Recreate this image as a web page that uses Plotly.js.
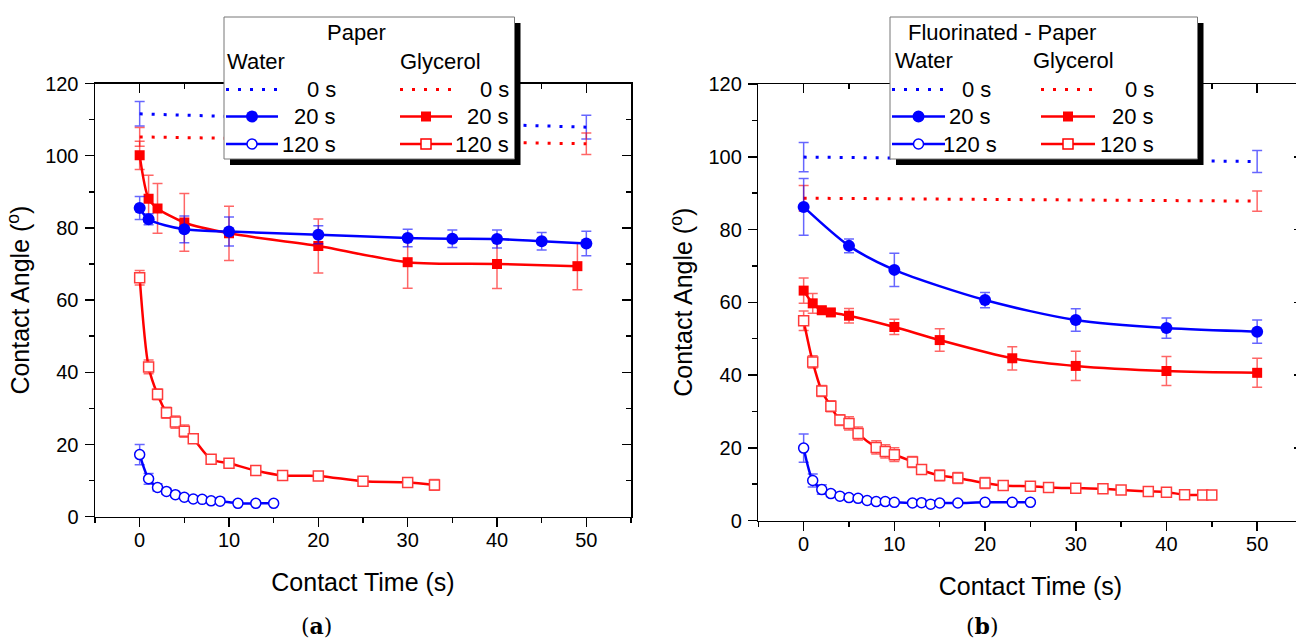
<!DOCTYPE html>
<html>
<head>
<meta charset="utf-8">
<script src="https://cdn.plot.ly/plotly-3.0.1.min.js"></script>
<style>
html,body{margin:0;padding:0;overflow:hidden;background:#fff;}
#chart{width:1304px;height:642px;}
</style>
</head>
<body>
<div id="chart"></div>
<script>
// ---------------- DATA ----------------
// Panel (a): Paper
const tA_w0 = [0, 50];
const yA_w0 = [111.6, 107.9];
const eA_w0 = [3.4, 3.3];
const tA_g0 = [0, 50];
const yA_g0 = [105.2, 103.3];
const eA_g0 = [2.6, 3.0];
const tA_w20 = [0, 1, 5, 10, 20, 30, 35, 40, 45, 50];
const yA_w20 = [85.5, 82.4, 79.6, 79.0, 78.1, 77.2, 77.0, 76.9, 76.3, 75.7];
const eA_w20 = [3.2, 1.5, 3.7, 4.0, 2.5, 2.4, 2.4, 2.5, 2.4, 3.4];
const tA_g20 = [0, 1, 2, 5, 10, 20, 30, 40, 49];
const yA_g20 = [100.1, 88.1, 85.4, 81.5, 78.5, 75.0, 70.5, 70.0, 69.4];
const eA_g20 = [3.9, 6.5, 6.9, 8.0, 7.5, 7.5, 7.2, 6.8, 6.5];
const tA_w120 = [0, 1, 2, 3, 4, 5, 6, 7, 8, 9, 11, 13, 15];
const yA_w120 = [17.2, 10.5, 8.1, 7.0, 6.1, 5.4, 4.9, 4.8, 4.4, 4.3, 3.7, 3.7, 3.7];
const eA_w120 = [2.8, 1.5, 1.0, 0.8, 0.6, 0.5, 0.5, 0.5, 0.5, 0.5, 0.5, 0.5, 0.5];
const tA_g120 = [0, 1, 2, 3, 4, 5, 6, 8, 10, 13, 16, 20, 25, 30, 33];
const yA_g120 = [66.2, 41.5, 33.9, 28.8, 26.2, 23.7, 21.6, 15.9, 14.8, 12.8, 11.4, 11.3, 9.8, 9.5, 8.8];
const eA_g120 = [2.0, 1.9, 1.5, 1.5, 1.7, 1.7, 1.2, 1.0, 1.0, 0.8, 0.8, 0.8, 0.8, 0.8, 1.5];

// Panel (b): Fluorinated - Paper
const tB_w0 = [0, 50];
const yB_w0 = [99.9, 98.7];
const eB_w0 = [4.0, 3.0];
const tB_g0 = [0, 50];
const yB_g0 = [88.6, 87.8];
const eB_g0 = [3.5, 2.8];
const tB_w20 = [0, 5, 10, 20, 30, 40, 50];
const yB_w20 = [86.2, 75.5, 68.9, 60.6, 55.1, 52.9, 51.9];
const eB_w20 = [7.8, 1.9, 4.6, 2.1, 3.1, 2.8, 3.2];
const tB_g20 = [0, 1, 2, 3, 5, 10, 15, 23, 30, 40, 50];
const yB_g20 = [63.2, 59.7, 57.8, 57.2, 56.3, 53.2, 49.6, 44.6, 42.5, 41.1, 40.6];
const eB_g20 = [3.5, 2.7, 1.0, 0.8, 2.0, 2.1, 3.1, 3.2, 4.0, 4.0, 4.0];
const tB_w120 = [0, 1, 2, 3, 4, 5, 6, 7, 8, 9, 10, 12, 13, 14, 15, 17, 20, 23, 25];
const yB_w120 = [19.9, 11.0, 8.5, 7.4, 6.7, 6.3, 6.1, 5.5, 5.2, 5.2, 5.0, 4.8, 4.9, 4.5, 4.8, 4.8, 5.0, 5.0, 5.0];
const eB_w120 = [3.9, 1.8, 1.3, 0.8, 0.6, 0.5, 0.5, 0.5, 0.5, 0.5, 0.5, 0.5, 0.5, 0.5, 0.5, 0.5, 0.5, 0.5, 0.5];
const tB_g120 = [0, 1, 2, 3, 4, 5, 6, 8, 9, 10, 12, 13, 15, 17, 20, 22, 25, 27, 30, 33, 35, 38, 40, 42, 44, 45];
const yB_g120 = [54.9, 43.6, 35.6, 31.4, 27.6, 26.7, 23.9, 20.1, 19.0, 18.1, 16.1, 14.0, 12.4, 11.7, 10.3, 9.6, 9.4, 9.1, 8.9, 8.7, 8.4, 8.0, 7.8, 7.1, 7.0, 7.0];
const eB_g120 = [2.7, 1.7, 1.5, 1.5, 1.5, 1.8, 1.8, 1.8, 1.8, 1.9, 1.5, 1.0, 1.5, 1.5, 1.5, 1.0, 1.0, 1.0, 1.0, 1.0, 1.0, 1.0, 1.0, 1.0, 1.0, 1.0];

// labels
const panelTitles = ['Paper', 'Fluorinated - Paper'];
const liquidLabels = ['Water', 'Glycerol'];
const timeLabels = ['0 s', '20 s', '120 s'];
const xTitle = 'Contact Time (s)';
const yTitle = 'Contact Angle (<sup>o</sup>)';
const captions = ['(<b>a</b>)', '(<b>b</b>)'];

// ---------------- STYLE ----------------
const W = 1304, H = 642;
const F = 'Liberation Sans, Arial, sans-serif';
const BLUE = '#0000ff', RED = '#ff0000';
const BLUE_E = 'rgba(0,0,255,0.6)', RED_E = 'rgba(255,0,0,0.6)';
const DOT = '3px,9px';
function px(x) { return x / W; }
function py(y) { return 1 - y / H; }

function zero(t, y, e, xa, ya, color, ecolor) {
  return {x: t, y: y, xaxis: xa, yaxis: ya, type: 'scatter', mode: 'lines',
    line: {color: color, width: 3, dash: DOT},
    error_y: {type: 'data', array: e, color: ecolor, thickness: 1.5, width: 5},
    showlegend: false, hoverinfo: 'skip'};
}
function curve(t, y, e, xa, ya, color, ecolor, symbol, size, open) {
  return {x: t, y: y, xaxis: xa, yaxis: ya, type: 'scatter', mode: 'lines+markers',
    line: {color: color, width: 2.5, shape: 'spline', smoothing: 0.8},
    marker: open ? {symbol: symbol, size: size, color: 'white', line: {color: color === RED ? '#ff3b3b' : color, width: 1.5}}
                 : {symbol: symbol, size: size, color: color, line: {width: 0}},
    error_y: {type: 'data', array: e, color: ecolor, thickness: 1.5, width: 5},
    showlegend: false, hoverinfo: 'skip'};
}

const data = [
  zero(tA_w0, yA_w0, eA_w0, 'x', 'y', BLUE, BLUE_E),
  zero(tA_g0, yA_g0, eA_g0, 'x', 'y', RED, RED_E),
  curve(tA_g20, yA_g20, eA_g20, 'x', 'y', RED, RED_E, 'square', 10, false),
  curve(tA_w20, yA_w20, eA_w20, 'x', 'y', BLUE, BLUE_E, 'circle', 12, false),
  curve(tA_g120, yA_g120, eA_g120, 'x', 'y', RED, RED_E, 'square', 10, true),
  curve(tA_w120, yA_w120, eA_w120, 'x', 'y', BLUE, BLUE_E, 'circle', 10, true),
  zero(tB_w0, yB_w0, eB_w0, 'x2', 'y2', BLUE, BLUE_E),
  zero(tB_g0, yB_g0, eB_g0, 'x2', 'y2', RED, RED_E),
  curve(tB_g20, yB_g20, eB_g20, 'x2', 'y2', RED, RED_E, 'square', 10, false),
  curve(tB_w20, yB_w20, eB_w20, 'x2', 'y2', BLUE, BLUE_E, 'circle', 12, false),
  curve(tB_g120, yB_g120, eB_g120, 'x2', 'y2', RED, RED_E, 'square', 10, true),
  curve(tB_w120, yB_w120, eB_w120, 'x2', 'y2', BLUE, BLUE_E, 'circle', 10, true),
  // empty traces so the mirrored inner-tick axes get drawn
  {x: [], y: [], xaxis: 'x3', yaxis: 'y', type: 'scatter', showlegend: false},
  {x: [], y: [], xaxis: 'x', yaxis: 'y3', type: 'scatter', showlegend: false},
  {x: [], y: [], xaxis: 'x4', yaxis: 'y2', type: 'scatter', showlegend: false},
  {x: [], y: [], xaxis: 'x2', yaxis: 'y4', type: 'scatter', showlegend: false}
];

function mainX(dom, anchor) {
  return {domain: dom, anchor: anchor, range: [-5, 55], dtick: 10, tick0: 0,
    showline: true, mirror: true, linecolor: 'black', linewidth: 1.5,
    ticks: 'outside', ticklen: 9, tickwidth: 1.5, tickcolor: 'black', ticklabelstandoff: -4,
    minor: {dtick: 5, ticks: 'outside', ticklen: 5, tickwidth: 1.5, tickcolor: 'black', showgrid: false},
    showgrid: false, zeroline: false,
    tickfont: {family: F, size: 20, color: 'black'},
    title: {text: xTitle, font: {family: F, size: 25, color: 'black'}, standoff: 23}};
}
function mainY(dom, anchor) {
  return {domain: dom, anchor: anchor, range: [0, 120], dtick: 20, tick0: 0,
    showline: true, mirror: true, linecolor: 'black', linewidth: 1.5,
    ticks: 'outside', ticklen: 9, tickwidth: 1.5, tickcolor: 'black', ticklabelstandoff: 2,
    minor: {dtick: 10, ticks: 'outside', ticklen: 5, tickwidth: 1.5, tickcolor: 'black', showgrid: false},
    showgrid: false, zeroline: false,
    tickfont: {family: F, size: 20, color: 'black'},
    title: {text: yTitle, font: {family: F, size: 25, color: 'black'}, standoff: 8}};
}
function innerX(over, anchor) {
  return {overlaying: over, anchor: anchor, side: 'top', range: [-5, 55], dtick: 10, tick0: 0,
    showline: false, ticks: 'inside', ticklen: 9, tickwidth: 1.5, tickcolor: 'black',
    minor: {dtick: 5, ticks: 'inside', ticklen: 5, tickwidth: 1.5, tickcolor: 'black', showgrid: false},
    showticklabels: false, showgrid: false, zeroline: false};
}
function innerY(over, anchor) {
  return {overlaying: over, anchor: anchor, side: 'right', range: [0, 120], dtick: 20, tick0: 0,
    showline: false, ticks: 'inside', ticklen: 9, tickwidth: 1.5, tickcolor: 'black',
    minor: {dtick: 10, ticks: 'inside', ticklen: 5, tickwidth: 1.5, tickcolor: 'black', showgrid: false},
    showticklabels: false, showgrid: false, zeroline: false};
}

// ---------------- LEGEND BOXES (drawn) ----------------
const shapes = [];
const annotations = [];
function legendBox(x0, y0, x1, y1, title, titleX, titleAnchor, wX, gX, wLine, gLine, wTextR, gTextR, rows, headY, titleY) {
  shapes.push({type: 'rect', xref: 'paper', yref: 'paper', x0: px(x0 + 6), x1: px(x1 + 6), y0: py(y0 + 6), y1: py(y1 + 6),
    fillcolor: 'black', line: {width: 0}, layer: 'above'});
  shapes.push({type: 'rect', xref: 'paper', yref: 'paper', x0: px(x0), x1: px(x1), y0: py(y0), y1: py(y1),
    fillcolor: 'white', line: {color: '#777', width: 1}, layer: 'above'});
  annotations.push({xref: 'paper', yref: 'paper', x: px(titleX), y: py(titleY), xanchor: titleAnchor, yanchor: 'middle',
    text: title, showarrow: false, font: {family: F, size: 22, color: 'black'}});
  annotations.push({xref: 'paper', yref: 'paper', x: px(wX), y: py(headY), xanchor: 'left', yanchor: 'middle',
    text: liquidLabels[0], showarrow: false, font: {family: F, size: 22, color: 'black'}});
  annotations.push({xref: 'paper', yref: 'paper', x: px(gX), y: py(headY), xanchor: 'left', yanchor: 'middle',
    text: liquidLabels[1], showarrow: false, font: {family: F, size: 22, color: 'black'}});
  const cols = [[wLine, wTextR, BLUE, 'circle'], [gLine, gTextR, RED, 'square']];
  cols.forEach(function (c) {
    const l0 = c[0][0], l1 = c[0][1], mx = (l0 + l1) / 2, col = c[2];
    rows.forEach(function (ry, i) {
      shapes.push({type: 'line', xref: 'paper', yref: 'paper', x0: px(l0), x1: px(l1), y0: py(ry), y1: py(ry),
        line: {color: col, width: i === 0 ? 3 : 2.5, dash: i === 0 ? DOT : 'solid'}, layer: 'above'});
      if (i > 0) {
        const r = c[3] === 'circle' ? (i === 1 ? 6 : 5) : 5;
        shapes.push({type: c[3] === 'circle' ? 'circle' : 'rect', xref: 'paper', yref: 'paper',
          x0: px(mx - r), x1: px(mx + r), y0: py(ry - r), y1: py(ry + r),
          fillcolor: i === 1 ? col : 'white', line: {color: col, width: i === 1 ? 0 : 1.5}, layer: 'above'});
      }
      annotations.push({xref: 'paper', yref: 'paper', x: px(c[1][i]), y: py(ry), xanchor: 'right', yanchor: 'middle',
        text: timeLabels[i], showarrow: false, font: {family: F, size: 22, color: 'black'}});
    });
  });
}
legendBox(224, 17, 514.5, 159, panelTitles[0], 357, 'center', 225, 398, [226, 278], [400, 452],
  [338, 338, 338], [511, 511, 511], [89.5, 116.5, 144], 61.7, 33);
legendBox(890, 17, 1197.5, 159, panelTitles[1], 906, 'left', 893, 1031, [892, 945], [1041, 1095],
  [993, 993, 999], [1156, 1156, 1156], [89.5, 116.5, 144], 61, 33);

annotations.push({xref: 'paper', yref: 'paper', x: px(316), y: py(641), xanchor: 'center', yanchor: 'bottom',
  text: captions[0], showarrow: false, font: {family: 'DejaVu Serif, serif', size: 22, color: 'black'}});
annotations.push({xref: 'paper', yref: 'paper', x: px(982), y: py(641), xanchor: 'center', yanchor: 'bottom',
  text: captions[1], showarrow: false, font: {family: 'DejaVu Serif, serif', size: 22, color: 'black'}});

const layout = {
  width: W, height: H,
  margin: {l: 0, r: 0, t: 0, b: 0},
  paper_bgcolor: 'white', plot_bgcolor: 'white',
  showlegend: false,
  font: {family: F, color: 'black'},
  xaxis: mainX([px(95), px(631)], 'y'),
  yaxis: mainY([py(516.7), py(83.5)], 'x'),
  xaxis2: mainX([px(758.3), px(1302.5)], 'y2'),
  yaxis2: mainY([py(520.5), py(84)], 'x2'),
  xaxis3: innerX('x', 'y'),
  yaxis3: innerY('y', 'x'),
  xaxis4: innerX('x2', 'y2'),
  yaxis4: innerY('y2', 'x2'),
  shapes: shapes,
  annotations: annotations
};

Plotly.newPlot('chart', data, layout, {displayModeBar: false, staticPlot: true});
</script>
</body>
</html>
